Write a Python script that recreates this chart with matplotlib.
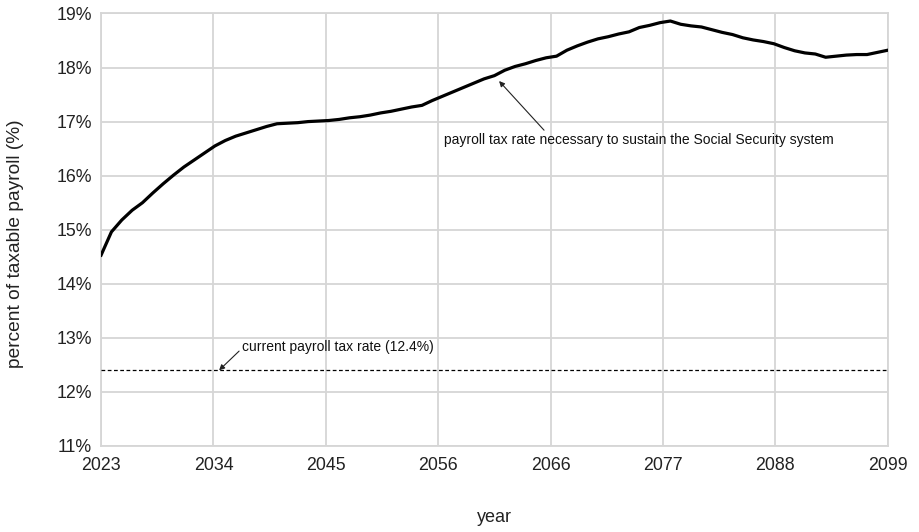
import numpy as np
import matplotlib
matplotlib.use("Agg")
import matplotlib.pyplot as plt

# Annual series, 2023-2099 (% of taxable payroll)
years = list(range(2023, 2100))
required_rate = [
    14.53, 14.96, 15.18, 15.36, 15.50, 15.68, 15.85, 16.01, 16.16, 16.29,
    16.42, 16.55, 16.65, 16.73, 16.79, 16.85, 16.91, 16.96, 16.97, 16.98,
    17.00, 17.01, 17.02, 17.04, 17.07, 17.09, 17.12, 17.16, 17.19, 17.23,
    17.27, 17.30, 17.39, 17.47, 17.55, 17.63, 17.71, 17.79, 17.85, 17.95,
    18.02, 18.07, 18.13, 18.18, 18.21, 18.32, 18.40, 18.47, 18.53, 18.57,
    18.62, 18.66, 18.74, 18.78, 18.83, 18.86, 18.80, 18.77, 18.75, 18.70,
    18.65, 18.61, 18.55, 18.51, 18.48, 18.44, 18.37, 18.31, 18.27, 18.25,
    18.19, 18.21, 18.23, 18.24, 18.24, 18.28, 18.32,
]
current_rate = 12.4
y_ticks = [11, 12, 13, 14, 15, 16, 17, 18, 19]
x_tick_labels = ["2023", "2034", "2045", "2056", "2066", "2077", "2088", "2099"]

plt.rcParams["font.family"] = ["Liberation Sans", "DejaVu Sans"]

fig = plt.figure(figsize=(9.19, 5.32), dpi=100)
ax = fig.add_axes([0.110, 0.1617, 0.856, 0.813])

grid_color = "#d6d6d6"
ax.plot(years, required_rate, color="black", lw=2.3, zorder=3,
        solid_joinstyle="round")
ax.axhline(current_rate, color="black", lw=0.9, ls=(0, (3, 2)), zorder=3)

ax.set_xlim(years[0], years[-1])
ax.set_ylim(y_ticks[0], y_ticks[-1])
x_tick_pos = np.linspace(years[0], years[-1], len(x_tick_labels))
ax.set_xticks(x_tick_pos)
ax.set_xticklabels(x_tick_labels)
ax.set_yticks(y_ticks)
ax.set_yticklabels([f"{v}%" for v in y_ticks])
ax.tick_params(axis="both", length=0, labelsize=12.8, colors="#222222")
ax.tick_params(axis="x", pad=8)
ax.tick_params(axis="y", pad=6.5)

ax.grid(True, color=grid_color, lw=1.3)
for s in ax.spines.values():
    s.set_color(grid_color)
    s.set_linewidth(1.3)
ax.set_axisbelow(True)

# Annotations
ax.annotate("payroll tax rate necessary to sustain the Social Security system",
            xy=(2061.45, 17.75), xytext=(2056.1, 16.66),
            fontsize=10, color="#111111", va="center", ha="left",
            arrowprops=dict(arrowstyle="-|>", color="#222222", lw=0.8,
                            mutation_scale=8, shrinkA=0, shrinkB=0,
                            relpos=(0.264, 1.0)))
ax.annotate("current payroll tax rate (12.4%)",
            xy=(2034.4, current_rate), xytext=(2036.6, 12.83),
            fontsize=10, color="#111111", va="center", ha="left",
            arrowprops=dict(arrowstyle="-|>", color="#222222", lw=0.8,
                            mutation_scale=8, shrinkA=0, shrinkB=0,
                            relpos=(0.0, 0.4)))

fig.text(494.5 / 919, 1 - 517 / 532, "year", ha="center", va="center",
         fontsize=13, color="#222222")
fig.text(16 / 919, 1 - 244 / 532, "percent of taxable payroll (%)",
         rotation=90, ha="center", va="center", fontsize=13.8, color="#222222")

fig.savefig("out.png", dpi=100)
